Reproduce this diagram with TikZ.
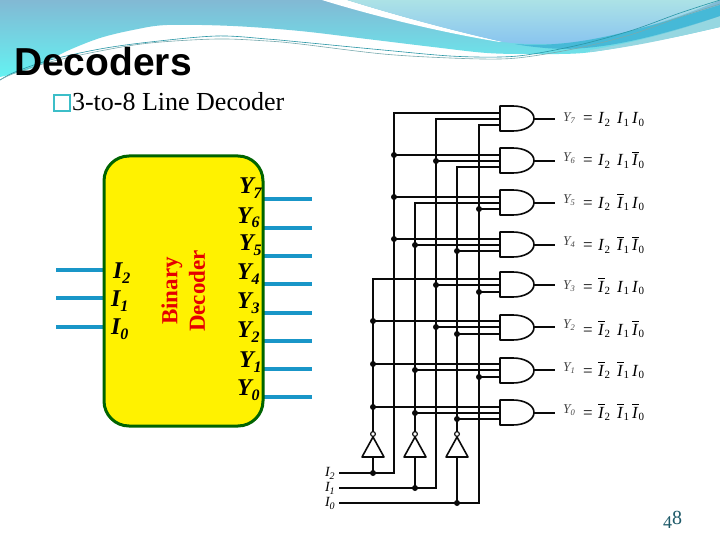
\documentclass[tikz,border=0pt]{standalone}
\usepackage{fontspec}
\setmainfont{Liberation Serif}
\newfontfamily\titlefont{Liberation Sans}
\definecolor{wirecol}{RGB}{10,10,10}
\definecolor{tealbox}{RGB}{60,190,200}
\definecolor{pinblue}{RGB}{25,150,200}
\definecolor{blockgreen}{RGB}{0,100,0}
\definecolor{labelgray}{RGB}{70,70,70}
\definecolor{pagenum}{RGB}{30,90,105}
\definecolor{waveA}{RGB}{130,185,212}
\definecolor{waveB}{RGB}{122,198,218}
\definecolor{waveC}{RGB}{100,242,242}
\definecolor{waveD}{RGB}{172,226,230}
\definecolor{waveE}{RGB}{135,195,240}
\definecolor{waveF}{RGB}{70,185,215}
\definecolor{waveG}{RGB}{150,215,225}
\definecolor{lineA}{RGB}{40,150,165}
\definecolor{lineB}{RGB}{120,170,175}
\newcommand\bigY[1]{\fontsize{24}{24}\selectfont\bfseries\itshape Y\raisebox{-5pt}{\fontsize{16}{16}\selectfont #1}}
\newcommand\bigI[1]{\fontsize{24}{24}\selectfont\bfseries\itshape I\raisebox{-5pt}{\fontsize{16}{16}\selectfont #1}}
\newcommand\smallY[1]{\color{labelgray}\fontsize{13.5}{14}\selectfont\itshape Y\raisebox{-2pt}{\fontsize{8.5}{9}\selectfont #1}}
\newcommand\smallI[1]{\fontsize{14}{14}\selectfont\itshape I\raisebox{-3pt}{\fontsize{10}{10}\selectfont #1}}
\newcommand\eqT[2]{\makebox[#1pt][l]{\itshape I\kern1pt\raisebox{-2.6pt}{\fontsize{11}{11}\selectfont\upshape #2}}}
\newcommand\eqB[2]{\makebox[#1pt][l]{\rlap{\rule[13pt]{7pt}{0.9pt}}\itshape I\kern1pt\raisebox{-2.6pt}{\fontsize{11}{11}\selectfont\upshape #2}}}
\newcommand\eqLine[3]{\fontsize{17}{18}\selectfont\makebox[15pt][l]{=}#1#2#3}
\tikzset{
  x=1pt,y=-1pt,
  wire/.style={draw=wirecol,line width=1.8pt},
  gateshape/.style={draw=wirecol,line width=1.6pt,fill=white,line join=round},
  joint/.style={fill=wirecol,draw=none},
  pin/.style={draw=pinblue,line width=3.6pt},
  txt/.style={inner sep=0pt,outer sep=0pt,anchor=base west},
  thinwave/.style={line width=0.6pt}
}
\begin{document}
\begin{tikzpicture}
\useasboundingbox (0,0) rectangle (720,540);
\fill[white] (0,0) rectangle (720,540);
% ---- banner
\shade[top color=waveA,middle color=waveB,bottom color=waveC]
  plot[smooth,tension=0.55] coordinates {(0,77) (33,68) (67,51) (100,38) (133,30) (167,25) (233,26) (300,31) (367,39) (433,47) (487,53) (533,54) (583,53) (633,45) (680,36) (720,27)}
  -- (720,0) -- (0,0) -- cycle;
\fill[white] (322,0) .. controls (380,18) and (450,34) .. (500,42) -- (503,42) .. controls (450,30) and (395,15) .. (347,0) -- cycle;
\shade[top color=waveD,bottom color=waveE]
  (347,0) .. controls (395,15) and (450,30) .. (503,42) .. controls (535,46) and (575,45) .. (610,36) .. controls (650,27) and (690,13) .. (720,0) -- cycle;
\fill[waveG] (590,50) .. controls (640,42) and (690,27) .. (720,16) -- (720,27) .. controls (680,36) and (640,46) .. (590,52) -- cycle;
\fill[waveF] (515,44) .. controls (570,48) and (620,36) .. (720,5) -- (720,16) .. controls (640,42) and (590,52) .. (545,48) .. controls (535,47) and (525,46) .. (515,44) -- cycle;
\draw[thinwave,draw=lineA] plot[smooth,tension=0.55] coordinates {(0,80) (15,72) (50,60) (100,49) (150,42) (217,36) (267,39) (300,42) (383,50) (450,56) (500,57) (533,54) (583,44) (633,30) (680,13) (720,0)};
\draw[thinwave,draw=lineB] plot[smooth,tension=0.55] coordinates {(0,80) (15,73) (50,62) (100,51) (150,43) (217,39) (267,41) (300,44) (383,54) (450,58) (500,59) (533,56) (583,47) (633,34) (680,17) (720,4)};
% ---- title
\node[txt] (title) at (14,76) {\titlefont\bfseries\fontsize{39}{39}\selectfont Decoders};
\node[draw=tealbox,line width=2pt,minimum width=16.5pt,minimum height=16.5pt,inner sep=0pt,fill=white] (bullet) at (62,103) {};
\node[txt] (subtitle) at (72,111) {\fontsize{26}{26}\selectfont 3-to-8 Line Decoder};
% ---- block
\foreach \yy in {270,298,327} {\draw[pin] (56,\yy) -- (104,\yy);}
\foreach \yy in {199,228,256,284,313,341,369,397} {\draw[pin] (263,\yy) -- (312,\yy);}
\node[draw=blockgreen,line width=3pt,fill=yellow,rounded corners=25pt,minimum width=159pt,minimum height=270pt,inner sep=0pt] (block) at (183.5,291) {};
\node[txt] (bi2) at (113,278) {\bigI{2}};
\node[txt] (bi1) at (111,306) {\bigI{1}};
\node[txt] (bi0) at (111,334) {\bigI{0}};
\node[txt] (by7) at (239,194) {\bigY{7}};
\node[txt] (by6) at (237,223) {\bigY{6}};
\node[txt] (by5) at (239,251) {\bigY{5}};
\node[txt] (by4) at (237,279) {\bigY{4}};
\node[txt] (by3) at (237,308) {\bigY{3}};
\node[txt] (by2) at (237,337) {\bigY{2}};
\node[txt] (by1) at (239,367) {\bigY{1}};
\node[txt] (by0) at (237,395) {\bigY{0}};
\node[rotate=90,inner sep=0pt,text=red!90!black,font=\fontsize{23}{23}\selectfont\bfseries] (bbin) at (172,291) {Binary};
\node[rotate=90,inner sep=0pt,text=red!90!black,font=\fontsize{23}{23}\selectfont\bfseries] (bdec) at (197,291) {Decoder};
% ---- gate pins
\foreach \n/\t/\pa/\pb/\pc/\po in {7/106/113/119/125/119,6/148/155/161/167/161,5/190/197/203/209/203,4/232/239/245/251/245,3/272/279/285/292/285,2/315/321/327/334/327,1/358/364/370/377/370,0/400/407/413/419/413}{
  \coordinate (g\n a) at (500,\pa);
  \coordinate (g\n b) at (500,\pb);
  \coordinate (g\n c) at (500,\pc);
  \coordinate (g\n o) at (534,\po);
  \coordinate (e\n) at (555,\po);
}
% ---- input terminals and bus feet
\coordinate (in2) at (339,473);
\coordinate (in1) at (339,488);
\coordinate (in0) at (339,503);
\coordinate (t2) at (394,473);
\coordinate (t1) at (436,488);
\coordinate (t0) at (479,503);
\foreach \b/\xx/\yy in {2/373/473,1/415/488,0/457/503}{
  \coordinate (f\b) at (\xx,\yy);
  \coordinate (base\b) at (\xx,457);
  \coordinate (top\b) at (\xx,431.5);
}
\node[txt] (li2) at (325,476) {\smallI{2}};
\node[txt] (li1) at (325,491) {\smallI{1}};
\node[txt] (li0) at (325,506) {\smallI{0}};
% ---- wires
\draw[wire] (in2) -- (t2) |- (g7a);
\draw[wire] (in1) -- (t1) |- (g7b);
\draw[wire] (in0) -- (t0) |- (g7c);
\draw[wire] (top2) |- (g3a);
\draw[wire] (top1) |- (g5b);
\draw[wire] (top0) |- (g6c);
\foreach \b in {2,1,0}{\draw[wire] (f\b) -- (base\b);}
% branches: pin / bus
\foreach \p/\bus in {g6a/t2,g5a/t2,g4a/t2,g6b/t1,g3b/t1,g2b/t1,g5c/t0,g3c/t0,g1c/t0,g4b/top1,g1b/top1,g0b/top1,g4c/top0,g2c/top0,g0c/top0,g2a/top2,g1a/top2,g0a/top2}{
  \draw[wire] (\bus |- \p) -- (\p);
  \fill[joint] (\bus |- \p) circle (3);
}
\foreach \p in {f2,f1,f0}{\fill[joint] (\p) circle (3);}
% ---- inverters
\foreach \b in {2,1,0}{
  \draw[gateshape] (base\b) ++(-11,0) -- ++(22,0) -- ++(-11,-20) -- cycle;
  \draw[draw=wirecol,line width=1.1pt,fill=white] (base\b) ++(0,-23) circle (2.4);
}
% ---- AND gates
\foreach \n/\t in {7/106,6/148,5/190,4/232,3/272,2/315,1/358,0/400}{
  \draw[wire] (g\n o) -- (e\n);
  \draw[gateshape] (500,\t) -- ++(13,0) .. controls +(12,0) and +(0,-7) .. ++(21,12.5) .. controls +(0,7) and +(12,0) .. ++(-21,12.5) -- ++(-13,0) -- cycle;
}
% ---- output labels
\node[txt] (ly7) at (563,122) {\smallY{7}};
\node[txt] (ly6) at (563,162) {\smallY{6}};
\node[txt] (ly5) at (563,204) {\smallY{5}};
\node[txt] (ly4) at (563,245) {\smallY{4}};
\node[txt] (ly3) at (563,289) {\smallY{3}};
\node[txt] (ly2) at (563,328) {\smallY{2}};
\node[txt] (ly1) at (563,371) {\smallY{1}};
\node[txt] (ly0) at (563,413) {\smallY{0}};
\node[txt] (eq7) at (583,123.5) {\eqLine{\eqT{19}{2}}{\eqT{15}{1}}{\eqT{14}{0}}};
\node[txt] (eq6) at (583,166) {\eqLine{\eqT{19}{2}}{\eqT{15}{1}}{\eqB{14}{0}}};
\node[txt] (eq5) at (583,208) {\eqLine{\eqT{19}{2}}{\eqB{15}{1}}{\eqT{14}{0}}};
\node[txt] (eq4) at (583,251) {\eqLine{\eqT{19}{2}}{\eqB{15}{1}}{\eqB{14}{0}}};
\node[txt] (eq3) at (583,292) {\eqLine{\eqB{19}{2}}{\eqT{15}{1}}{\eqT{14}{0}}};
\node[txt] (eq2) at (583,335) {\eqLine{\eqB{19}{2}}{\eqT{15}{1}}{\eqB{14}{0}}};
\node[txt] (eq1) at (583,376) {\eqLine{\eqB{19}{2}}{\eqB{15}{1}}{\eqT{14}{0}}};
\node[txt] (eq0) at (583,418) {\eqLine{\eqB{19}{2}}{\eqB{15}{1}}{\eqB{14}{0}}};
% ---- page number
\node[txt,text=pagenum] (pg) at (663,524) {\fontsize{20}{20}\selectfont\raisebox{-4pt}{\fontsize{18}{18}\selectfont 4}8};
\end{tikzpicture}
\end{document}
